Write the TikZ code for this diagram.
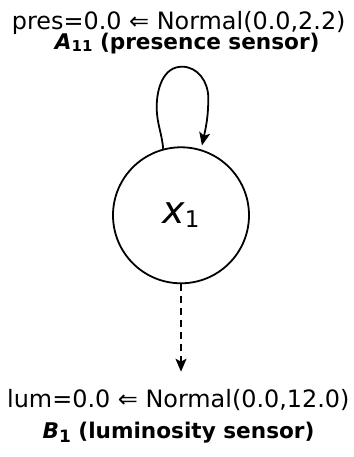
\documentclass[tikz,border=0pt]{standalone}
\usepackage{fontspec}
\setmainfont{DejaVu Sans}
\newfontfamily\rfont{DejaVu Sans}
\newfontfamily\bfontfam{DejaVu Sans}
\usetikzlibrary{arrows.meta}
\begin{document}
\begin{tikzpicture}[x=1bp,y=1bp, line width=1.8bp,
  txt/.style={inner sep=0pt, anchor=base west},
  reg/.style={txt, font=\rfont\fontsize{23.9bp}{26bp}\selectfont},
  bld/.style={txt, font=\bfontfam\bfseries\fontsize{21.6bp}{24bp}\selectfont},
  tip/.style={-{Stealth[length=13bp,width=11bp,inset=3bp]}},
  state/.style={circle, draw, minimum size=136bp, inner sep=0pt, font=\fontsize{38bp}{40bp}\selectfont}]
\useasboundingbox (0,0) rectangle (353,457);
\node[state] (c) at (181,241.7) {\itshape x\upshape\raisebox{-4.6bp}{\fontsize{23bp}{24bp}\selectfont 1}};
\node[reg] (t1) at (11,427) {pres=0.0 ⇐ Normal(0.0,2.2)};
\node[bld] (t2) at (54,407) {\itshape A\upshape\raisebox{-1.5bp}{\fontsize{15bp}{16bp}\selectfont 11} (presence sensor)};
\node[reg] (b1) at (6.3,49.3) {lum=0.0 ⇐ Normal(0.0,12.0)};
\node[bld] (b2) at (41.7,18.7) {\itshape B\upshape\raisebox{-4.5bp}{\fontsize{17bp}{18bp}\selectfont 1} (luminosity sensor)};
\coordinate (bt) at (181,85.3);
\draw[tip, dash pattern=on 7bp off 5bp] (c.south) -- (bt);
\draw[tip, shorten >=4bp] (c.105) to[out=95,in=270] (156.7,350) to[out=90,in=180] (182,390.3) to[out=0,in=90] (208.3,359) to[out=270,in=78] (c.73);
\end{tikzpicture}
\end{document}
